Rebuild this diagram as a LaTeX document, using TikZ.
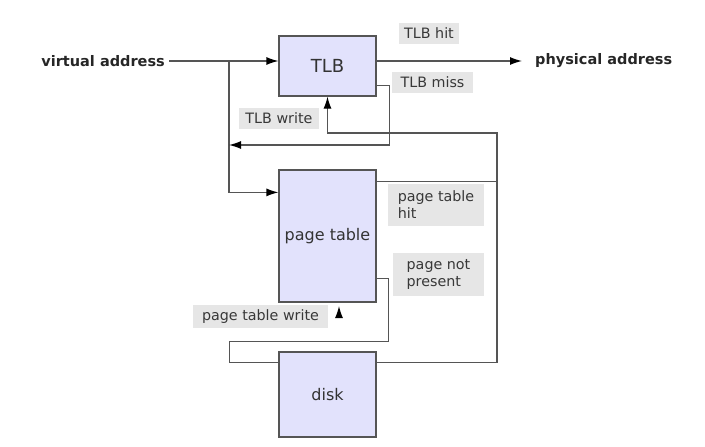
\documentclass[tikz,border=0pt]{standalone}
\usepackage{fontspec}
\setmainfont{DejaVu Sans}
\usetikzlibrary{arrows.meta}
\definecolor{boxfill}{RGB}{226,226,252}
\definecolor{linegray}{RGB}{85,85,85}
\definecolor{labelfill}{RGB}{230,230,230}
\tikzset{
  unit/.style={draw=linegray, fill=boxfill, line width=1.2pt, minimum width=97pt,
    text=black!80, inner sep=0pt, font=\fontsize{16}{19}\selectfont},
  tag/.style={fill=labelfill, text=black!78, align=left, inner sep=0pt,
    font=\fontsize{14.3}{17}\selectfont},
  io/.style={font=\bfseries\fontsize{14.5}{17}\selectfont, text=black!85, inner sep=0pt},
  wire/.style={draw=linegray, line width=1.2pt},
  >={Latex[length=12pt,width=8pt,color=black]}
}
\begin{document}
\begin{tikzpicture}[x=1pt,y=-1pt]
    \useasboundingbox (0,0) rectangle (705,447);
    \node[unit, minimum height=60pt, font=\fontsize{18}{20}\selectfont] (tlb) at (327.5, 66) {TLB};
    \node[unit, minimum height=132pt] (pt)   at (327.5, 236)   {page table};
    \node[unit, minimum height=85pt]  (disk) at (327.5, 394.5) {disk};
    \node[io, anchor=east] (va) at (165, 61) {virtual address};
    \node[io, anchor=west] (pa) at (535, 61) {physical address};
    \node[tag, minimum width=60pt,  minimum height=21pt] (hit)     at (429, 33.5)   {TLB hit};
    \node[tag, minimum width=81pt,  minimum height=21pt] (miss)    at (432.5, 82.5) {TLB miss};
    \node[tag, minimum width=80pt,  minimum height=21pt] (write)   at (279, 118.5)  {TLB write};
    \node[tag, minimum width=96pt,  minimum height=42pt] (pthit)   at (436, 205)    {page table\\hit};
    \node[tag, minimum width=91pt,  minimum height=43pt] (npres)   at (438.5, 274.5) {page not\\present};
    \node[tag, minimum width=135pt, minimum height=23pt] (ptwrite) at (260.5, 316.5) {page table write};
    \coordinate (fork) at (229, 61);
    \coordinate (back) at (229, 145);
    \coordinate (turn) at (497, 133);
    \coordinate (ptw)  at (339, 318);
    \draw[wire,->] ([xshift=4pt]va.east) -- (va -| tlb.west);
    \draw[wire,->] (fork) |- ([yshift=-23pt]pt.north west);
    \draw[wire,->] (tlb.east |- pa) -- ([xshift=-13pt]pa.west);
    \draw[wire,->] ([yshift=11pt]tlb.south east) -- ++(13,0) |- (back);
    \draw[wire,->] ([yshift=-11pt]disk.north east) -| (turn) -| (tlb.south);
    \draw[wire] ([yshift=-12pt]pt.north east) -- ++(121,0);
    \draw[wire] ([yshift=24pt]pt.south east) -- ++(12,0) -- ++(0,63) -- ++(-159,0)
        |- ([yshift=-11pt]disk.north west);
    \draw[wire,->] (ptw) -- ++(0,-12);
\end{tikzpicture}
\end{document}
